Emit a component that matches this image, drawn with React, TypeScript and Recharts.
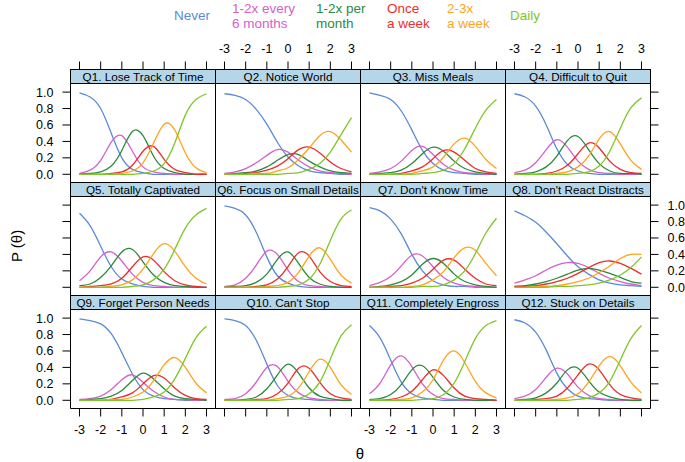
import { LineChart, Line, XAxis, YAxis, ReferenceArea } from "recharts";

const FONT = "'Liberation Sans', Arial, Helvetica, sans-serif";

// theta grid shared by every panel
const THETA = [-3, -2.5, -2, -1.5, -1, -0.5, 0, 0.5, 1, 1.5, 2, 2.5, 3];
const X_TICKS = [-3, -2, -1, 0, 1, 2, 3];
const Y_TICKS = [0, 0.2, 0.4, 0.6, 0.8, 1];

const KEYS = ["never", "m6", "pm", "wk", "w23", "daily"];
const COLORS = ["#5B8BD6", "#D560CB", "#2B8A3B", "#EC2D2D", "#FFA41C", "#80C62A"];
const LEGEND = [["Never"], ["1-2x every", "6 months"], ["1-2x per", "month"], ["Once", "a week"], ["2-3x", "a week"], ["Daily"]];
const LEGEND_X = [174, 232, 316, 387, 447, 510];

const TITLES = [
  "Q1. Lose Track of Time", "Q2. Notice World", "Q3. Miss Meals", "Q4. Difficult to Quit",
  "Q5. Totally Captivated", "Q6. Focus on Small Details", "Q7. Don't Know Time", "Q8. Don't React Distracts",
  "Q9. Forget Person Needs", "Q10. Can't Stop", "Q11. Completely Engross", "Q12. Stuck on Details",
];

// category probabilities (rows follow KEYS, columns follow THETA)
const Q1 = [
  [0.99, 0.94, 0.8, 0.5, 0.2, 0.06, 0.02, 0, 0, 0, 0, 0, 0],
  [0.01, 0.05, 0.17, 0.39, 0.47, 0.28, 0.09, 0.03, 0.01, 0, 0, 0, 0],
  [0, 0.01, 0.03, 0.1, 0.29, 0.52, 0.47, 0.22, 0.07, 0.02, 0, 0, 0],
  [0, 0, 0, 0.01, 0.03, 0.11, 0.28, 0.34, 0.18, 0.06, 0.02, 0, 0],
  [0, 0, 0, 0, 0.01, 0.04, 0.14, 0.38, 0.61, 0.54, 0.26, 0.08, 0.02],
  [0, 0, 0, 0, 0, 0, 0.01, 0.04, 0.13, 0.38, 0.72, 0.91, 0.98],
];
const Q2 = [
  [0.98, 0.96, 0.91, 0.79, 0.61, 0.39, 0.21, 0.1, 0.04, 0.02, 0.01, 0, 0],
  [0.01, 0.03, 0.07, 0.14, 0.23, 0.3, 0.27, 0.17, 0.09, 0.04, 0.02, 0.01, 0],
  [0, 0.01, 0.02, 0.04, 0.09, 0.17, 0.24, 0.24, 0.16, 0.09, 0.04, 0.02, 0.01],
  [0, 0, 0.01, 0.02, 0.05, 0.1, 0.19, 0.3, 0.33, 0.26, 0.15, 0.07, 0.03],
  [0, 0, 0, 0.01, 0.01, 0.04, 0.08, 0.18, 0.32, 0.47, 0.52, 0.42, 0.27],
  [0, 0, 0, 0, 0, 0, 0.01, 0.02, 0.06, 0.13, 0.27, 0.48, 0.69],
];
const Q3 = [
  [0.99, 0.96, 0.91, 0.77, 0.54, 0.29, 0.13, 0.05, 0.02, 0.01, 0, 0, 0],
  [0.01, 0.03, 0.07, 0.16, 0.29, 0.34, 0.24, 0.12, 0.05, 0.02, 0.01, 0, 0],
  [0, 0.01, 0.02, 0.05, 0.13, 0.25, 0.33, 0.28, 0.16, 0.07, 0.03, 0.01, 0],
  [0, 0, 0, 0.01, 0.04, 0.09, 0.19, 0.29, 0.27, 0.17, 0.07, 0.03, 0.01],
  [0, 0, 0, 0, 0.01, 0.04, 0.09, 0.21, 0.37, 0.44, 0.34, 0.18, 0.07],
  [0, 0, 0, 0, 0, 0.01, 0.02, 0.05, 0.13, 0.31, 0.56, 0.78, 0.91],
];
const Q4 = [
  [0.98, 0.94, 0.83, 0.6, 0.31, 0.12, 0.04, 0.01, 0, 0, 0, 0, 0],
  [0.02, 0.05, 0.14, 0.3, 0.42, 0.33, 0.16, 0.06, 0.02, 0.01, 0, 0, 0],
  [0, 0.01, 0.03, 0.09, 0.22, 0.41, 0.46, 0.3, 0.13, 0.04, 0.01, 0.01, 0],
  [0, 0, 0, 0.01, 0.04, 0.11, 0.25, 0.38, 0.32, 0.16, 0.06, 0.02, 0.01],
  [0, 0, 0, 0, 0.01, 0.03, 0.09, 0.22, 0.43, 0.52, 0.37, 0.17, 0.06],
  [0, 0, 0, 0, 0, 0, 0.01, 0.03, 0.1, 0.28, 0.56, 0.81, 0.93],
];
const Q5 = [
  [0.9, 0.75, 0.5, 0.25, 0.1, 0.04, 0.01, 0, 0, 0, 0, 0, 0],
  [0.08, 0.2, 0.37, 0.43, 0.32, 0.16, 0.06, 0.02, 0.01, 0, 0, 0, 0],
  [0.02, 0.04, 0.12, 0.26, 0.43, 0.46, 0.31, 0.15, 0.06, 0.02, 0.01, 0, 0],
  [0, 0.01, 0.02, 0.04, 0.11, 0.25, 0.37, 0.33, 0.19, 0.08, 0.03, 0.01, 0],
  [0, 0, 0, 0.01, 0.03, 0.09, 0.22, 0.41, 0.53, 0.44, 0.25, 0.11, 0.04],
  [0, 0, 0, 0, 0, 0.01, 0.03, 0.09, 0.22, 0.46, 0.72, 0.88, 0.96],
];
const Q6 = [
  [0.99, 0.96, 0.88, 0.67, 0.37, 0.14, 0.05, 0.01, 0, 0, 0, 0, 0],
  [0.01, 0.03, 0.11, 0.27, 0.44, 0.4, 0.21, 0.07, 0.02, 0.01, 0, 0, 0],
  [0, 0.01, 0.02, 0.06, 0.16, 0.34, 0.43, 0.29, 0.12, 0.04, 0.01, 0, 0],
  [0, 0, 0, 0.01, 0.03, 0.1, 0.25, 0.42, 0.38, 0.19, 0.07, 0.02, 0.01],
  [0, 0, 0, 0, 0.01, 0.02, 0.06, 0.18, 0.38, 0.48, 0.34, 0.15, 0.05],
  [0, 0, 0, 0, 0, 0, 0.01, 0.03, 0.1, 0.28, 0.57, 0.83, 0.94],
];
const Q7 = [
  [0.97, 0.93, 0.83, 0.65, 0.4, 0.2, 0.08, 0.03, 0.01, 0.01, 0, 0, 0],
  [0.02, 0.06, 0.13, 0.26, 0.39, 0.38, 0.25, 0.12, 0.05, 0.02, 0.01, 0, 0],
  [0, 0.01, 0.03, 0.07, 0.15, 0.28, 0.35, 0.29, 0.16, 0.07, 0.03, 0.01, 0],
  [0, 0, 0.01, 0.02, 0.05, 0.11, 0.22, 0.33, 0.33, 0.22, 0.11, 0.04, 0.02],
  [0, 0, 0, 0, 0.01, 0.03, 0.09, 0.19, 0.36, 0.48, 0.45, 0.29, 0.14],
  [0, 0, 0, 0, 0, 0.01, 0.01, 0.03, 0.09, 0.2, 0.41, 0.66, 0.84],
];
const Q8 = [
  [0.93, 0.87, 0.79, 0.67, 0.53, 0.38, 0.25, 0.16, 0.09, 0.05, 0.03, 0.02, 0.01],
  [0.05, 0.09, 0.14, 0.21, 0.27, 0.3, 0.29, 0.24, 0.17, 0.11, 0.07, 0.04, 0.02],
  [0.01, 0.02, 0.04, 0.07, 0.11, 0.16, 0.21, 0.23, 0.21, 0.17, 0.12, 0.07, 0.05],
  [0.01, 0.01, 0.02, 0.04, 0.07, 0.11, 0.17, 0.24, 0.3, 0.32, 0.29, 0.23, 0.16],
  [0, 0, 0.01, 0.01, 0.02, 0.04, 0.07, 0.11, 0.18, 0.26, 0.35, 0.4, 0.4],
  [0, 0, 0, 0, 0.01, 0.01, 0.02, 0.03, 0.05, 0.09, 0.15, 0.24, 0.37],
];
const Q9 = [
  [0.99, 0.97, 0.93, 0.81, 0.58, 0.32, 0.13, 0.05, 0.02, 0.01, 0, 0, 0],
  [0.01, 0.02, 0.05, 0.13, 0.25, 0.31, 0.22, 0.11, 0.04, 0.01, 0.01, 0, 0],
  [0, 0.01, 0.02, 0.05, 0.12, 0.24, 0.33, 0.26, 0.14, 0.05, 0.02, 0.01, 0],
  [0, 0, 0, 0.01, 0.04, 0.09, 0.2, 0.3, 0.27, 0.15, 0.06, 0.02, 0.01],
  [0, 0, 0, 0.01, 0.01, 0.04, 0.1, 0.24, 0.43, 0.52, 0.4, 0.21, 0.09],
  [0, 0, 0, 0, 0, 0, 0.01, 0.04, 0.1, 0.26, 0.51, 0.76, 0.9],
];
const Q10 = [
  [0.99, 0.97, 0.91, 0.73, 0.44, 0.18, 0.06, 0.02, 0.01, 0, 0, 0, 0],
  [0.01, 0.02, 0.08, 0.22, 0.4, 0.41, 0.23, 0.09, 0.03, 0.01, 0, 0, 0],
  [0, 0, 0.01, 0.04, 0.14, 0.31, 0.44, 0.33, 0.15, 0.05, 0.02, 0, 0],
  [0, 0, 0, 0.01, 0.02, 0.08, 0.21, 0.39, 0.39, 0.22, 0.08, 0.03, 0.01],
  [0, 0, 0, 0, 0, 0.02, 0.05, 0.15, 0.35, 0.5, 0.4, 0.19, 0.07],
  [0, 0, 0, 0, 0, 0, 0.01, 0.02, 0.08, 0.22, 0.5, 0.78, 0.92],
];
const Q11 = [
  [0.91, 0.76, 0.49, 0.22, 0.08, 0.03, 0.01, 0, 0, 0, 0, 0, 0],
  [0.08, 0.21, 0.43, 0.54, 0.41, 0.2, 0.07, 0.02, 0.01, 0, 0, 0, 0],
  [0.01, 0.02, 0.07, 0.19, 0.37, 0.42, 0.28, 0.12, 0.04, 0.01, 0, 0, 0],
  [0, 0, 0.01, 0.04, 0.11, 0.25, 0.37, 0.3, 0.15, 0.05, 0.02, 0.01, 0],
  [0, 0, 0, 0.01, 0.03, 0.1, 0.25, 0.49, 0.6, 0.46, 0.23, 0.09, 0.03],
  [0, 0, 0, 0, 0, 0.01, 0.02, 0.07, 0.21, 0.47, 0.75, 0.91, 0.97],
];
const Q12 = [
  [0.98, 0.94, 0.83, 0.61, 0.33, 0.14, 0.05, 0.02, 0.01, 0, 0, 0, 0],
  [0.02, 0.05, 0.13, 0.28, 0.39, 0.32, 0.16, 0.06, 0.02, 0.01, 0, 0, 0],
  [0, 0.01, 0.03, 0.09, 0.21, 0.37, 0.39, 0.24, 0.1, 0.04, 0.01, 0, 0],
  [0, 0, 0.01, 0.02, 0.05, 0.15, 0.31, 0.44, 0.37, 0.19, 0.07, 0.03, 0.01],
  [0, 0, 0, 0, 0.01, 0.03, 0.08, 0.22, 0.42, 0.53, 0.42, 0.22, 0.09],
  [0, 0, 0, 0, 0, 0, 0.01, 0.03, 0.09, 0.23, 0.49, 0.75, 0.91],
];
const PANELS = [Q1, Q2, Q3, Q4, Q5, Q6, Q7, Q8, Q9, Q10, Q11, Q12];

// layout (lattice-like 4 x 3 grid)
const LEFT = 70;
const TOP = 69;
const PW = 145;
const PH = 113;
const STRIP = 14;
const PAD = 45;
const AX = 40;
const XMIN = -3.425;
const XMAX = 3.425;
const YMIN = -0.1;
const YMAX = 1.275;
const STRIP_LO = YMAX - (STRIP * (YMAX - YMIN)) / PH;

const tickStyle = { fill: "#000", fontSize: 12.5, fontFamily: FONT };
const blank = () => "";

function Panel({ idx }: { idx: number }) {
  const r = Math.floor(idx / 4);
  const c = idx % 4;
  const q = PANELS[idx];
  const data = THETA.map((t, i) => {
    const row: Record<string, number> = { t };
    KEYS.forEach((k, j) => (row[k] = q[j][i]));
    return row;
  });

  const showTop = r === 0;
  const showBottom = r === 2;
  const showLeft = c === 0;
  const showRight = c === 3;
  const xLabels = (showTop && c % 2 === 1) || (showBottom && c % 2 === 0);
  const yLabels = (showLeft && r % 2 === 0) || (showRight && r % 2 === 1);

  return (
    <div style={{ position: "absolute", left: LEFT + PW * c - PAD, top: TOP + PH * r - PAD }}>
      <LineChart
        width={PW + 2 * PAD}
        height={PH + 2 * PAD}
        data={data}
        margin={{
          top: PAD + 0.5 - (showTop ? AX : 0),
          bottom: PAD - 0.5 - (showBottom ? AX : 0),
          left: PAD + 0.5 - (showLeft ? AX : 0),
          right: PAD - 0.5 - (showRight ? AX : 0),
        }}
      >
        <XAxis
          dataKey="t"
          type="number"
          domain={[XMIN, XMAX]}
          allowDataOverflow
          ticks={X_TICKS}
          interval={0}
          orientation={showTop ? "top" : "bottom"}
          hide={!showTop && !showBottom}
          height={AX}
          axisLine={false}
          stroke="#000"
          tickSize={8}
          tickMargin={9}
          tick={tickStyle}
          tickFormatter={xLabels ? (v: number) => String(v) : blank}
        />
        <YAxis
          type="number"
          domain={[YMIN, YMAX]}
          allowDataOverflow
          ticks={Y_TICKS}
          interval={0}
          orientation={showRight ? "right" : "left"}
          hide={!showLeft && !showRight}
          width={AX}
          axisLine={false}
          stroke="#000"
          tickSize={8}
          tickMargin={9}
          tick={tickStyle}
          tickFormatter={yLabels ? (v: number) => v.toFixed(1) : blank}
        />
        <ReferenceArea
          x1={XMIN}
          x2={XMAX}
          y1={STRIP_LO}
          y2={YMAX}
          fill="#B5D6E8"
          fillOpacity={1}
          stroke="#000"
          strokeWidth={1}
          label={{ value: TITLES[idx], position: "center", fill: "#000", fontSize: 11.7, fontFamily: FONT }}
        />
        {KEYS.map((k, j) => (
          <Line
            key={k}
            dataKey={k}
            type="natural"
            stroke={COLORS[j]}
            strokeWidth={1.3}
            dot={false}
            isAnimationActive={false}
          />
        ))}
        <ReferenceArea x1={XMIN} x2={XMAX} y1={YMIN} y2={YMAX} fill="none" stroke="#000" strokeWidth={1} />
      </LineChart>
    </div>
  );
}

export default function App() {
  return (
    <div style={{ position: "absolute", left: 0, top: 0, width: 685, height: 462, background: "#fff", overflow: "hidden" }}>
      {PANELS.map((_, i) => (
        <Panel key={i} idx={i} />
      ))}
      <svg width={685} height={462} style={{ position: "absolute", left: 0, top: 0, pointerEvents: "none" }} fontFamily={FONT}>
        {LEGEND.map((lines, j) => (
          <text key={j} x={LEGEND_X[j]} fontSize={13.5} fill={COLORS[j]}>
            {lines.length === 1 ? (
              <tspan x={LEGEND_X[j]} y={19.5}>{lines[0]}</tspan>
            ) : (
              lines.map((s, k) => (
                <tspan key={k} x={LEGEND_X[j]} y={12.5 + 15.5 * k}>{s}</tspan>
              ))
            )}
          </text>
        ))}
        <text transform="translate(22,246) rotate(-90)" textAnchor="middle" fontSize={15} fill="#000">P (θ)</text>
        <text x={360} y={459} textAnchor="middle" fontSize={15} fill="#000">θ</text>
      </svg>
    </div>
  );
}
